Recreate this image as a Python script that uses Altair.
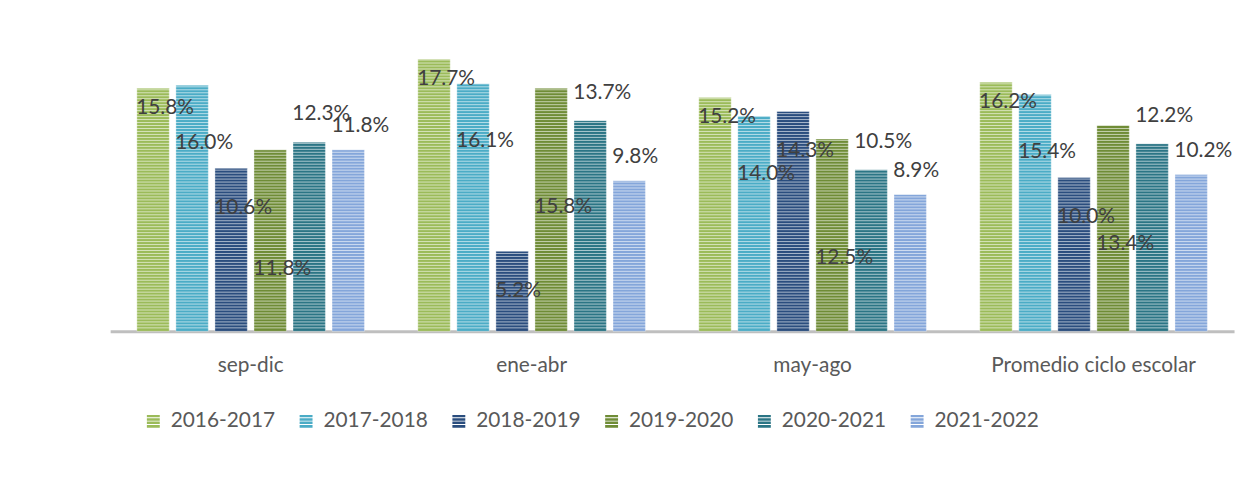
import altair as alt
import pandas as pd

categories = ["sep-dic", "ene-abr", "may-ago", "Promedio ciclo escolar"]
series = ["2016-2017", "2017-2018", "2018-2019", "2019-2020", "2020-2021", "2021-2022"]
v_2016_2017 = [15.8, 17.7, 15.2, 16.2]
v_2017_2018 = [16.0, 16.1, 14.0, 15.4]
v_2018_2019 = [10.6, 5.2, 14.3, 10.0]
v_2019_2020 = [11.8, 15.8, 12.5, 13.4]
v_2020_2021 = [12.3, 13.7, 10.5, 12.2]
v_2021_2022 = [11.8, 9.8, 8.9, 10.2]
colors = ["#9BBB59", "#4BACC6", "#2A4D7E", "#6F8C36", "#2B7585", "#84A6DA"]

all_vals = [v_2016_2017, v_2017_2018, v_2018_2019, v_2019_2020, v_2020_2021, v_2021_2022]
rows = []
for s, vals in zip(series, all_vals):
    for c, v in zip(categories, vals):
        rows.append({"cat": c, "serie": s, "value": v})
df = pd.DataFrame(rows)

FONT = "Lato"
YMAX = 19.35
H = 300
W = 1133
px = YMAX / H  # data units per pixel

xenc = alt.X("cat:N", sort=categories, title=None,
             scale=alt.Scale(paddingInner=0.19, paddingOuter=0.095),
             axis=alt.Axis(labelAngle=0, labelFontSize=21, labelFont=FONT, labelColor="#595959",
                           domainColor="#BFBFBF", domainWidth=3, ticks=False, labelPadding=23,
                           labelLimit=0, grid=False))
xoff = alt.XOffset("serie:N", sort=series, scale=alt.Scale(paddingInner=0.17, paddingOuter=0))
yenc = alt.Y("value:Q", scale=alt.Scale(domain=[0, YMAX], nice=False), axis=None, title=None)

stripe_path = ("M-1,-1H1V-0.62H-1Z M-1,-0.48H1V-0.1H-1Z "
               "M-1,0.04H1V0.42H-1Z M-1,0.56H1V1H-1Z")

base = alt.Chart(df)
bars = base.mark_bar(stroke="#FFFFFF", strokeOpacity=0.35, strokeWidth=1).encode(
    x=xenc, xOffset=xoff, y=yenc,
    fill=alt.Fill("serie:N", sort=series, scale=alt.Scale(domain=series, range=colors),
                  legend=alt.Legend(title=None, orient="none", direction="horizontal",
                                    legendX=33, legendY=380, symbolType=stripe_path,
                                    symbolSize=169, symbolStrokeWidth=0, labelFont=FONT,
                                    labelFontSize=21, labelColor="#595959", labelOffset=7,
                                    columnPadding=20)),
)

stripes = alt.Chart(alt.sequence(start=0.5 * px + 3 * px, stop=YMAX, step=3 * px, as_="s")).mark_rule(
    color="#FFFFFF", strokeWidth=1, opacity=0.6
).encode(y=alt.Y("s:Q", scale=alt.Scale(domain=[0, YMAX], nice=False), axis=None))

label_dy = [20, 58, 40, 120, -28, -24]
labels = []
for s, dy in zip(series, label_dy):
    labels.append(
        base.transform_filter(alt.datum.serie == s)
        .transform_calculate(lab="format(datum.value, '.1f') + '%'")
        .mark_text(align="left", baseline="middle", dx=-17, dy=dy, font=FONT, fontSize=21,
                   color="#404040")
        .encode(x=xenc, xOffset=xoff, y=yenc, text="lab:N")
    )

chart = alt.layer(bars, stripes, *labels).properties(
    width=W, height=H,
    padding={"left": 102, "top": 24, "right": 6, "bottom": 60},
    background="#FFFFFF",
).configure_view(stroke=None)

chart.save("out.html", embed_options={"renderer": "svg", "actions": False})
